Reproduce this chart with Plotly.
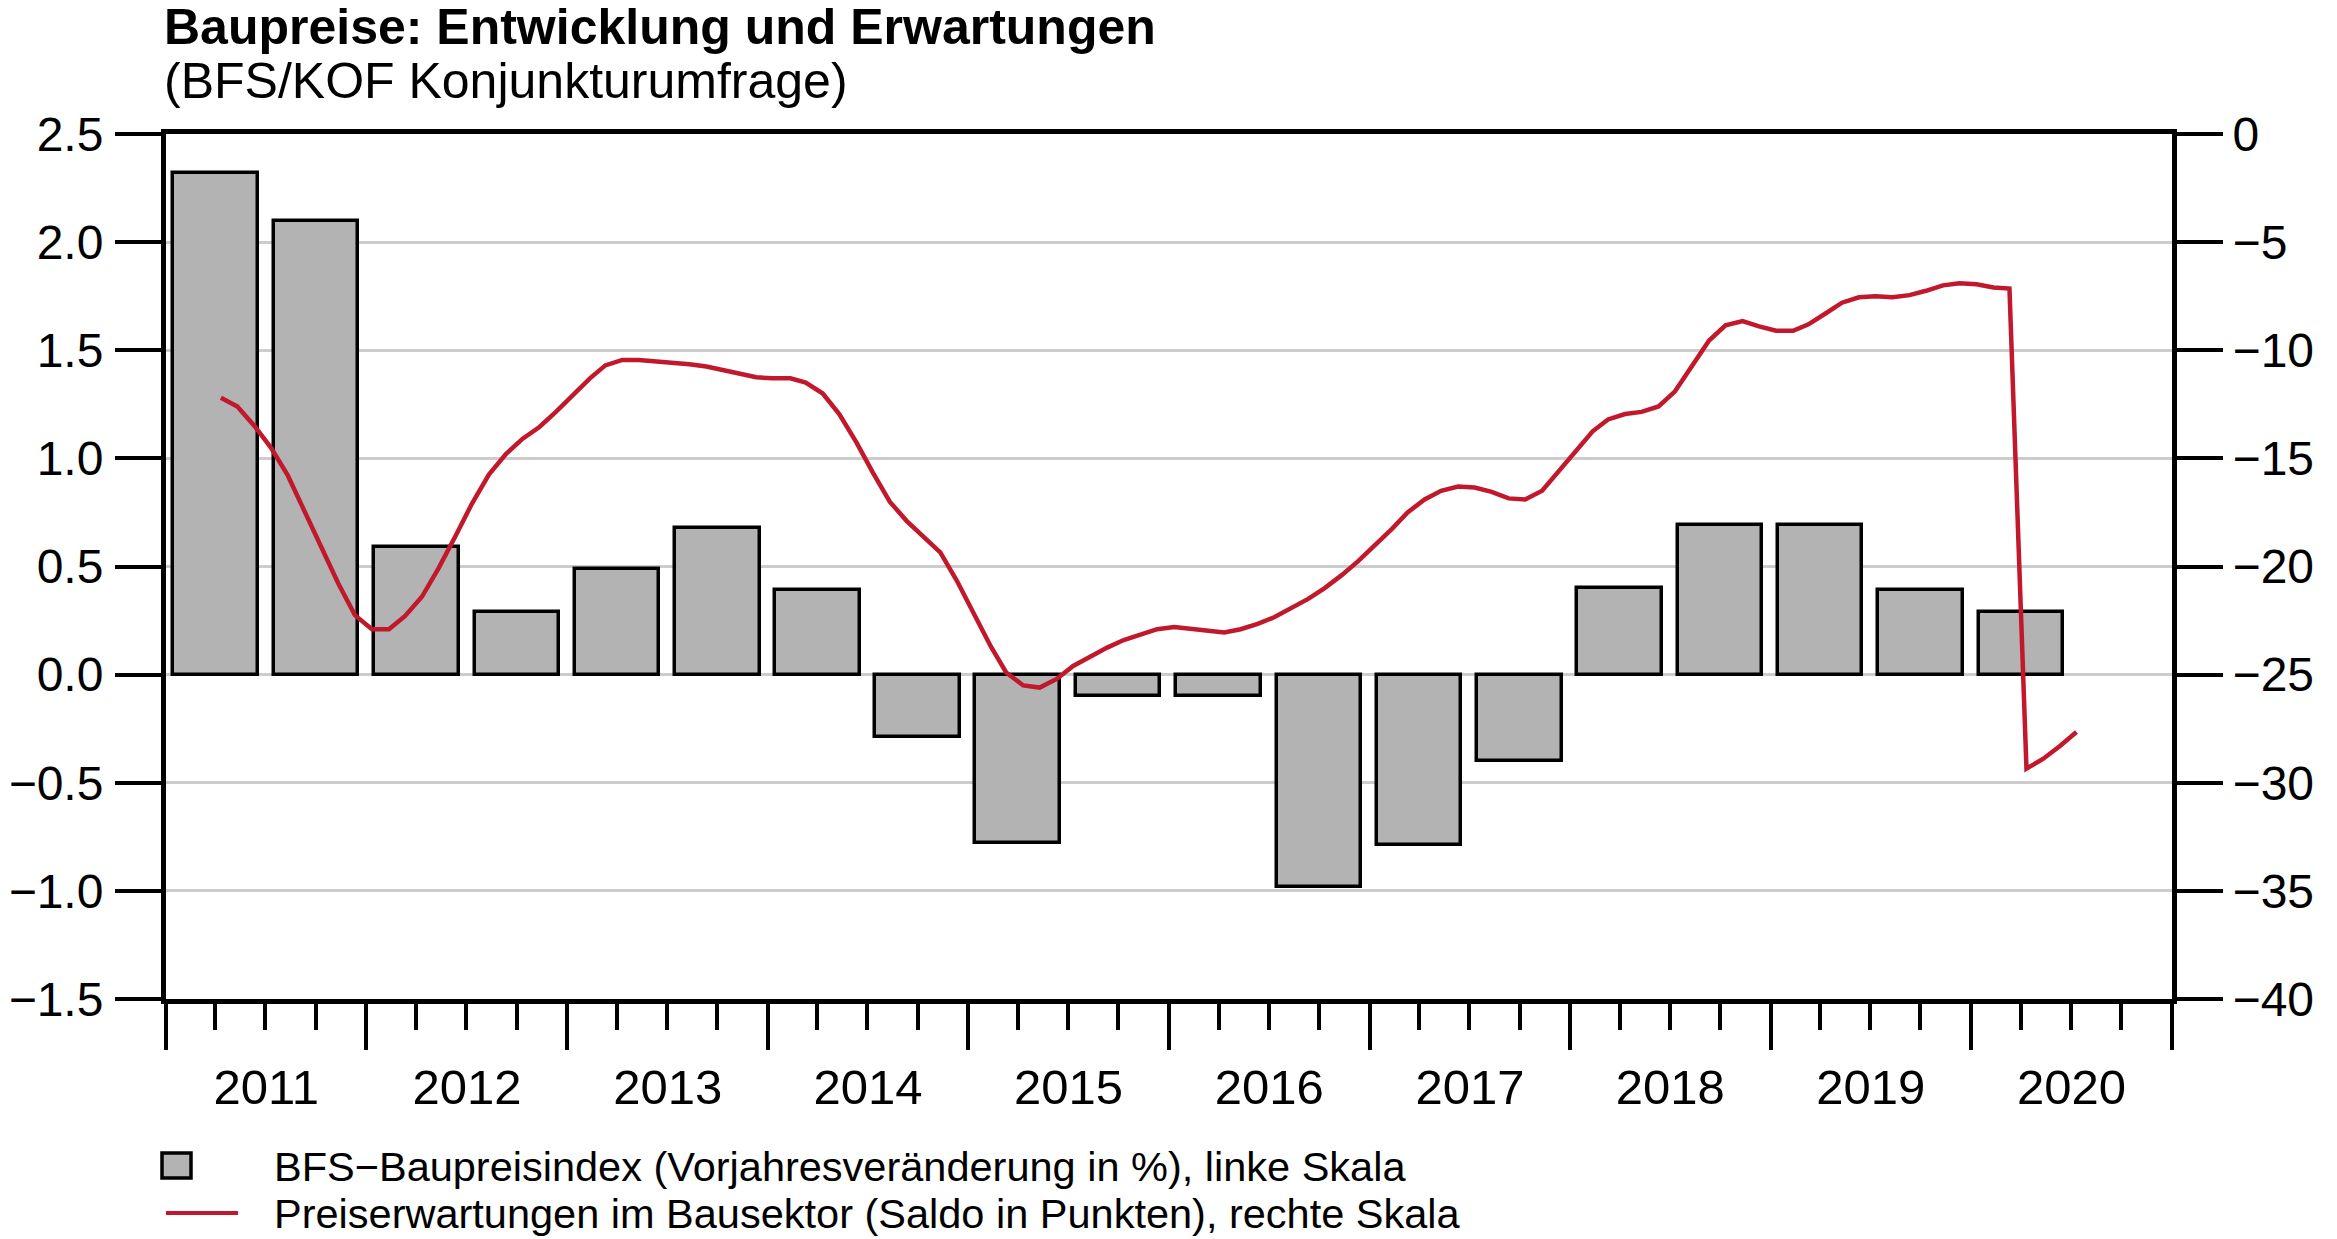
import pandas as pd
import plotly.graph_objects as go

# ---------------- data ----------------
bar_start = "2011-04-01"          # semi-annual BFS index (April / October)
bar_values = [2.32, 2.10, 0.59, 0.29, 0.49, 0.68, 0.39, -0.29, -0.78, -0.10,
              -0.10, -0.98, -0.79, -0.40, 0.40, 0.69, 0.69, 0.39, 0.29]

line_start = "2011-04-01"         # monthly KOF price expectations
line_values = [
    -12.2, -12.6, -13.5, -14.5, -15.8, -17.45, -19.15, -20.8, -22.25, -22.9,
    -22.9, -22.3, -21.4, -20.1, -18.6, -17.1, -15.75, -14.8, -14.1, -13.55,
    -12.85, -12.1, -11.3, -10.7, -10.45, -10.45, -10.5, -10.6, -10.65, -10.75,
    -10.9, -11.1, -11.25, -11.3, -11.3, -11.5, -12.0, -12.95, -14.25, -15.65,
    -17.0, -17.9, -18.6, -19.35, -20.65, -22.2, -23.7, -24.9, -25.5, -25.6,
    -25.2, -24.6, -24.15, -23.75, -23.4, -23.15, -22.9, -22.8, -22.9, -23.0,
    -23.05, -22.9, -22.65, -22.35, -21.95, -21.5, -21.0, -20.4, -19.75, -19.0,
    -18.25, -17.5, -16.9, -16.5, -16.3, -16.35, -16.55, -16.85, -16.9, -16.5,
    -15.6, -14.6, -13.75, -13.2, -12.95, -12.85, -12.6, -11.9, -10.75, -9.55,
    -8.85, -8.65, -8.9, -9.1, -9.1, -8.8, -8.3, -7.8, -7.55, -7.5,
    -7.55, -7.45, -7.25, -7.0, -6.9, -6.95, -7.1, -7.15, -29.35, -28.9,
    -28.3, -27.65,
]

left_ticks = [-1.5, -1.0, -0.5, 0.0, 0.5, 1.0, 1.5, 2.0, 2.5]
left_ticktext = ["\u22121.5", "\u22121.0", "\u22120.5", "0.0", "0.5", "1.0", "1.5", "2.0", "2.5"]
right_ticks = [-40, -35, -30, -25, -20, -15, -10, -5, 0]
right_ticktext = ["\u221240", "\u221235", "\u221230", "\u221225", "\u221220", "\u221215", "\u221210", "\u22125", "0"]

title_text = "<b>Baupreise: Entwicklung und Erwartungen</b>"
subtitle_text = "(BFS/KOF Konjunkturumfrage)"
legend_bar = "BFS\u2212Baupreisindex (Vorjahresveränderung in %), linke Skala"
legend_line = "Preiserwartungen im Bausektor (Saldo in Punkten), rechte Skala"

bar_dates = pd.date_range(bar_start, periods=len(bar_values), freq="6MS")
line_dates = pd.date_range(line_start, periods=len(line_values), freq="MS") + pd.Timedelta(days=10)

# ---------------- style ----------------
FONT = "Liberation Sans, Arial, Helvetica, sans-serif"
BAR_FILL = "#b3b3b3"
RED = "#c1182c"
GRID = "#cccccc"
W, H = 2337, 1239
ML, MR, MT, MB = 166, 165, 134, 240

fig = go.Figure()
fig.add_trace(go.Bar(
    x=bar_dates, y=bar_values, yaxis="y",
    width=154 * 86400000,
    marker=dict(color=BAR_FILL, line=dict(color="black", width=3.5)),
    name=legend_bar, showlegend=False,
))
fig.add_trace(go.Scatter(
    x=line_dates, y=line_values, yaxis="y2", mode="lines",
    line=dict(color=RED, width=4.5),
    name=legend_line, showlegend=False,
))

axis_common = dict(
    ticks="outside", ticklen=46, tickwidth=4, tickcolor="black",
    showline=True, linewidth=5, linecolor="black",
    zeroline=False, tickfont=dict(family=FONT, size=48, color="black"),
    automargin=False,
)

fig.update_layout(
    width=W, height=H, autosize=False,
    margin=dict(l=ML, r=MR, t=MT, b=MB, autoexpand=False),
    paper_bgcolor="white", plot_bgcolor="white",
    font=dict(family=FONT, color="black"),
    bargap=0,
    xaxis=dict(
        type="date", range=["2011-01-01", "2021-01-01"],
        tick0="2011-01-01", dtick="M12", tickformat="%Y",
        ticklabelmode="period",
        ticks="outside", ticklen=46, tickwidth=4, tickcolor="black",
        minor=dict(dtick="M3", tick0="2011-01-01", ticks="outside",
                   ticklen=26, tickwidth=4, tickcolor="black", showgrid=False),
        showline=True, linewidth=5, linecolor="black", mirror=True,
        showgrid=False, zeroline=False, automargin=False,
        tickfont=dict(family=FONT, size=49, color="black"),
        ticklabelstandoff=-5,
    ),
    yaxis=dict(
        range=[-1.5, 2.5], tickvals=left_ticks, ticktext=left_ticktext,
        showgrid=True, gridcolor=GRID, gridwidth=3, ticklabelstandoff=2,
        **axis_common,
    ),
    yaxis2=dict(
        range=[-40, 0], tickvals=right_ticks, ticktext=right_ticktext,
        overlaying="y", side="right", showgrid=False, ticklabelstandoff=0,
        **axis_common,
    ),
)

plot_w = W - ML - MR
plot_h = H - MT - MB


def px_x(px):
    return (px - ML) / plot_w


def px_y(py):
    return (H - MB - py) / plot_h


# title and subtitle
fig.add_annotation(text=title_text, xref="paper", yref="paper",
                   x=px_x(162), y=px_y(27), xanchor="left", yanchor="middle",
                   showarrow=False, font=dict(family=FONT, size=50, color="black"))
fig.add_annotation(text=subtitle_text, xref="paper", yref="paper",
                   x=px_x(162), y=px_y(81), xanchor="left", yanchor="middle",
                   showarrow=False, font=dict(family=FONT, size=50, color="black"))

# custom legend
fig.add_shape(type="rect", xref="paper", yref="paper",
              x0=px_x(162), x1=px_x(191), y0=px_y(1178), y1=px_y(1153),
              fillcolor=BAR_FILL, line=dict(color="black", width=3.5))
fig.add_shape(type="line", xref="paper", yref="paper",
              x0=px_x(166), x1=px_x(238), y0=px_y(1213), y1=px_y(1213),
              line=dict(color=RED, width=4))
fig.add_annotation(text=legend_bar, xref="paper", yref="paper",
                   x=px_x(272), y=px_y(1166), xanchor="left", yanchor="middle",
                   showarrow=False, font=dict(family=FONT, size=41.5, color="black"))
fig.add_annotation(text=legend_line, xref="paper", yref="paper",
                   x=px_x(272), y=px_y(1213), xanchor="left", yanchor="middle",
                   showarrow=False, font=dict(family=FONT, size=41.5, color="black"))

fig.write_html(
    "out.html",
    config={"displayModeBar": False},
    post_script=(
        "document.documentElement.style.margin='0';"
        "document.documentElement.style.padding='0';"
        "document.body.style.margin='0';"
        "document.body.style.padding='0';"
        "document.body.style.overflow='hidden';"
    ),
)
